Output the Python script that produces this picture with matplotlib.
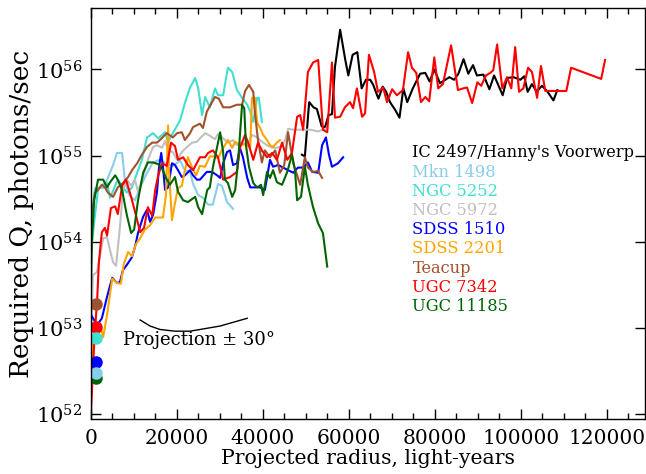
"""Required ionizing luminosity vs projected radius for the Voorwerpjes sample."""

import matplotlib

matplotlib.use("Agg")

import matplotlib.pyplot as plt
import matplotlib.ticker as mticker
import numpy as np


# projected radius in light-years, log10 of required Q (photons/sec)
IC2497_X = [49100, 49800, 50800, 51800, 52600, 53700, 54500, 55300, 56100, 56800,
            58000, 59200, 59900, 60900, 62000, 63000, 64000, 65000, 65700, 66900,
            67900, 68700, 69600, 70800, 71800, 72700, 73600, 74900, 76600, 77800,
            78800, 79900, 81200, 83400, 84500, 85500, 86700, 87800, 88900, 89800,
            91300, 92700, 93800, 95800, 96800, 98300, 99900, 100800, 101600, 102600,
            103700, 104900, 106100, 107600, 108500]
IC2497_LOGQ = [55.01, 54.99, 55.62, 55.56, 55.54, 55.34, 55.33, 55.47, 55.48, 56.03,
               56.46, 56.11, 55.93, 56.17, 56.20, 55.78, 55.88, 55.88, 55.82, 55.66,
               55.80, 55.74, 55.62, 55.53, 55.44, 55.78, 55.62, 55.78, 55.95, 55.96,
               55.86, 56.00, 55.84, 55.91, 55.88, 55.95, 56.12, 55.95, 56.05, 55.93,
               55.94, 55.77, 55.93, 55.70, 55.90, 55.91, 55.88, 55.92, 55.74, 55.83,
               55.74, 55.81, 55.75, 55.64, 55.76]

MKN1498_X = [0, 1000, 2200, 2900, 4000, 5200, 6100, 7300, 8000, 9100,
             10300, 11500, 13100, 14500, 16100, 17700, 19100, 20800, 21900, 23100,
             23800, 25000, 26100, 27300, 28400, 29600, 30500, 31700, 33100]
MKN1498_LOGQ = [54.25, 54.62, 54.63, 54.62, 54.74, 54.89, 55.03, 55.03, 54.69, 54.53,
                54.48, 54.63, 54.80, 54.92, 54.95, 54.90, 54.88, 54.94, 54.83, 54.81,
                54.67, 54.54, 54.51, 54.43, 54.43, 54.67, 54.65, 54.46, 54.38]

NGC5252_X = [0, 500, 1000, 1700, 2600, 3800, 4500, 5700, 6300, 7500,
             8400, 9600, 10800, 11900, 13100, 14500, 15700, 17300, 18000, 19100,
             20800, 21900, 23100, 24300, 25000, 25900, 26600, 27700, 28900, 29600,
             30800, 31900, 32900, 34000, 35200, 36400, 37100, 37800, 38700, 39100,
             39800]
NGC5252_LOGQ = [53.82, 54.08, 54.31, 54.60, 54.66, 54.68, 54.51, 54.65, 54.72, 54.63,
                54.57, 54.63, 54.80, 54.95, 55.21, 55.26, 55.20, 55.27, 55.16, 55.26,
                55.41, 55.61, 55.79, 55.90, 55.78, 55.47, 55.68, 55.56, 55.78, 55.70,
                55.70, 56.02, 55.97, 55.76, 55.67, 55.59, 55.51, 55.39, 55.67, 55.67,
                55.39]

NGC5972_X = [0, 500, 1500, 2200, 2900, 3800, 4500, 5200, 5900, 6800,
             7500, 8400, 9400, 10300, 11000, 12200, 13300, 14500, 15400, 16600,
             17300, 18000, 19100, 20100, 21200, 22400, 23600, 24700, 25400, 26600,
             27700, 28900, 29600, 30800, 31900, 33100, 34000, 35200, 36400, 37500,
             38700, 39800, 41000, 42200, 43300, 44500, 45200, 45900, 47100, 48700,
             51000, 52900, 55000]
NGC5972_LOGQ = [52.63, 53.61, 53.65, 53.85, 54.04, 54.05, 53.90, 53.76, 53.72, 54.17,
                54.60, 54.72, 54.65, 54.72, 54.58, 54.76, 54.95, 55.10, 55.12, 55.09,
                55.17, 55.06, 55.04, 54.95, 55.04, 55.10, 55.15, 55.16, 55.20, 55.26,
                55.23, 55.19, 55.25, 55.20, 55.15, 55.18, 55.12, 55.15, 55.12, 55.24,
                55.21, 55.16, 55.12, 55.09, 55.09, 55.11, 55.18, 55.31, 55.30, 55.30,
                55.30, 55.28, 55.32]

SDSS1510_X = [300, 1500, 2600, 3800, 5000, 6100, 6800, 7500, 8400, 9600,
              10300, 11000, 12200, 13100, 13800, 14500, 15400, 15900, 16400, 16800,
              17300, 18000, 18900, 19600, 20300, 21200, 21900, 23100, 23800, 24700,
              25400, 27000, 28200, 29400, 30100, 30800, 31700, 32400, 33100, 34000,
              34700, 35400, 36400, 37100, 39400, 40500, 41700, 42400, 43600, 45900,
              47100, 48200, 49400, 50500, 51500, 52900, 53800, 54700, 55400, 56100,
              57500, 58700]
SDSS1510_LOGQ = [53.13, 53.03, 53.11, 53.36, 53.58, 53.52, 53.53, 53.67, 53.73, 53.82,
                 53.94, 54.10, 54.29, 54.37, 54.23, 54.31, 54.57, 54.87, 55.03, 54.87,
                 54.60, 54.63, 54.91, 54.89, 54.83, 54.75, 54.77, 54.83, 54.77, 54.72,
                 54.72, 54.81, 54.81, 54.77, 54.74, 54.91, 55.04, 55.06, 54.89, 54.91,
                 55.09, 54.98, 54.74, 54.63, 54.63, 54.60, 54.95, 54.87, 54.89, 54.83,
                 54.80, 54.86, 54.86, 54.92, 54.81, 54.80, 55.12, 55.21, 55.01, 54.87,
                 54.91, 54.98]

SDSS2201_X = [300, 500, 1500, 2200, 2900, 3800, 5000, 6100, 7000, 7700,
              8700, 9600, 10500, 11500, 12600, 13800, 15000, 16100, 16800, 17500,
              18000, 18200, 18900, 19600, 20300, 21200, 21900, 22600, 23600, 24500,
              25400, 26600, 27700, 28700, 29600, 30500, 31900, 32900, 33600, 34700,
              35700, 37100, 37500, 38200, 38700, 39400, 40100, 41000, 41700, 42400,
              43300, 44000]
SDSS2201_LOGQ = [52.36, 52.82, 52.95, 53.03, 52.89, 53.15, 53.57, 53.52, 53.51, 53.74,
                 53.88, 53.83, 53.97, 54.04, 54.14, 54.19, 54.28, 54.28, 54.28, 54.54,
                 55.35, 54.83, 54.25, 54.45, 54.62, 54.65, 54.83, 54.98, 54.86, 54.77,
                 54.88, 54.87, 54.99, 54.99, 54.97, 55.06, 55.18, 55.09, 55.16, 55.12,
                 55.13, 55.10, 55.67, 55.67, 55.38, 55.32, 55.24, 55.18, 55.12, 55.10,
                 55.15, 55.18]

TEACUP_X = [0, 1000, 1700, 2600, 3300, 4000, 5200, 6300, 7500, 8700,
            9600, 10800, 11900, 13100, 14300, 15400, 16100, 17700, 19100, 20100,
            21200, 21900, 23100, 23800, 25400, 26100, 27000, 28000, 28900, 29800,
            30800, 32400, 34000, 35200, 35900, 36800, 37800, 38200, 38900, 39800,
            40500, 41700, 42900, 44000, 45000, 45900, 47100, 48700, 49800, 50500,
            51700, 52900, 53800]
TEACUP_LOGQ = [54.23, 54.57, 54.60, 54.66, 54.63, 54.57, 54.52, 54.63, 54.68, 54.75,
               54.83, 54.91, 55.01, 55.10, 55.15, 55.15, 55.18, 55.26, 55.21, 55.26,
               55.27, 55.18, 55.26, 55.33, 55.37, 55.32, 55.51, 55.60, 55.68, 55.66,
               55.56, 55.56, 55.59, 55.59, 55.75, 55.82, 55.74, 55.49, 55.18, 54.92,
               55.06, 54.98, 55.06, 54.80, 54.89, 55.27, 54.91, 54.66, 54.98, 54.86,
               54.81, 54.82, 54.74]

UGC7342_X = [0, 500, 1000, 1500, 1900, 2600, 3300, 3800, 4700, 5700,
             6300, 7300, 8200, 9400, 10500, 11500, 12400, 13300, 14300, 15000,
             15700, 16600, 17700, 18700, 19600, 20300, 21500, 22600, 23800, 25400,
             26600, 27300, 28400, 29600, 30800, 32400, 34000, 34700, 35900, 36600,
             37800, 38900, 39800, 41000, 42200, 43300, 44500, 45700, 46800, 48000,
             48700, 49400, 50500, 51700, 52900, 54000, 55000, 56100, 56800, 58000,
             59100, 60300, 61000, 61900, 63100, 63800, 64700, 65900, 66800, 68000,
             68900, 70100, 71200, 72600, 73800, 74700, 75700, 76800, 77800, 78700,
             79900, 80800, 81900, 83800, 85400, 86600, 87500, 88700, 89900, 90800,
             91900, 92900, 93600, 94500, 95700, 96800, 97800, 98700, 99600, 100600,
             101700, 102600, 103800, 104700, 105700, 108500, 110600, 111700, 118700, 119600]
UGC7342_LOGQ = [51.95, 52.51, 52.98, 53.32, 53.76, 54.11, 54.16, 54.07, 54.39, 54.41,
                54.32, 54.65, 54.72, 54.52, 54.31, 54.11, 54.16, 54.40, 54.30, 54.60,
                54.77, 54.91, 54.88, 55.15, 55.11, 54.95, 54.98, 54.89, 54.83, 54.98,
                54.98, 55.03, 55.06, 54.98, 54.72, 54.75, 54.81, 55.09, 55.24, 55.15,
                54.95, 55.15, 55.06, 54.98, 55.03, 54.95, 55.15, 54.95, 55.03, 55.45,
                55.47, 55.30, 55.97, 56.08, 56.11, 55.30, 55.27, 56.08, 55.44, 55.45,
                55.56, 55.62, 55.55, 55.78, 55.45, 55.49, 56.17, 55.97, 55.74, 55.79,
                55.62, 55.77, 55.70, 55.76, 56.20, 56.02, 55.96, 55.62, 55.68, 55.63,
                56.14, 55.78, 55.83, 56.28, 55.76, 55.78, 55.79, 55.61, 55.85, 55.81,
                55.93, 55.96, 55.99, 56.29, 55.78, 55.91, 55.78, 56.26, 55.74, 55.78,
                56.02, 55.97, 55.67, 56.04, 55.75, 55.75, 55.75, 56.02, 55.89, 56.11]

UGC11185_X = [0, 300, 800, 1700, 2900, 3800, 4500, 5700, 6300, 7300,
              8400, 9400, 10100, 11000, 12200, 13300, 14500, 15700, 16800, 17500,
              18400, 19600, 20300, 21500, 22600, 24300, 25000, 25900, 27100, 27700,
              28400, 29400, 30100, 30800, 31200, 31900, 32900, 33600, 34300, 35200,
              35700, 36100, 36800, 37800, 38700, 39600, 40100, 41000, 41700, 42400,
              43300, 44500, 45700, 46800, 47500, 48000, 48900, 49800, 50500, 51700,
              52900, 54000, 55000]
UGC11185_LOGQ = [53.32, 54.02, 54.48, 54.72, 54.72, 54.63, 54.69, 54.77, 54.72, 54.60,
                 54.31, 54.10, 54.14, 54.48, 54.80, 54.92, 54.92, 54.90, 54.83, 54.74,
                 54.66, 54.75, 54.58, 54.48, 54.46, 54.52, 54.40, 54.32, 54.60, 54.63,
                 54.86, 55.10, 55.27, 55.04, 54.72, 54.68, 54.52, 54.60, 54.95, 55.59,
                 55.55, 55.12, 54.87, 54.68, 54.63, 54.66, 54.54, 54.81, 54.74, 54.83,
                 54.69, 54.66, 54.81, 55.01, 54.83, 54.48, 54.52, 54.87, 54.66, 54.40,
                 54.21, 54.10, 53.71]

# nuclear points plotted at small radius
DOT_X = 1200
DOT_NAMES = ["UGC 7342", "UGC 11185", "SDSS 1510", "Teacup", "NGC 5252", "Mkn 1498"]
DOT_LOGQ = [53.01, 52.42, 52.60, 53.27, 52.88, 52.48]

# sketch of the +/- 30 degree projection effect
PROJ_X = [11500, 13800, 16100, 19600, 23100, 26600, 30100, 33600, 36400]
PROJ_LOGQ = [53.09, 53.02, 52.98, 52.96, 52.96, 52.99, 53.02, 53.07, 53.11]

NAMES = ["IC 2497/Hanny's Voorwerp", "Mkn 1498", "NGC 5252", "NGC 5972", "SDSS 1510",
         "SDSS 2201", "Teacup", "UGC 7342", "UGC 11185"]
COLORS = {
    "IC 2497/Hanny's Voorwerp": "black",
    "Mkn 1498": "#87ceeb",
    "NGC 5252": "#40e0d0",
    "NGC 5972": "#c0c0c0",
    "SDSS 1510": "#0000ff",
    "SDSS 2201": "#ffa500",
    "Teacup": "#a0522d",
    "UGC 7342": "#ff0000",
    "UGC 11185": "#006400",
}
SERIES = {
    "IC 2497/Hanny's Voorwerp": (IC2497_X, IC2497_LOGQ),
    "Mkn 1498": (MKN1498_X, MKN1498_LOGQ),
    "NGC 5252": (NGC5252_X, NGC5252_LOGQ),
    "NGC 5972": (NGC5972_X, NGC5972_LOGQ),
    "SDSS 1510": (SDSS1510_X, SDSS1510_LOGQ),
    "SDSS 2201": (SDSS2201_X, SDSS2201_LOGQ),
    "Teacup": (TEACUP_X, TEACUP_LOGQ),
    "UGC 7342": (UGC7342_X, UGC7342_LOGQ),
    "UGC 11185": (UGC11185_X, UGC11185_LOGQ),
}


def main() -> None:
    plt.rcParams["font.family"] = ["DejaVu Serif"]
    plt.rcParams["mathtext.fontset"] = "dejavuserif"

    fig = plt.figure(figsize=(6.46, 4.74), dpi=100)
    ax = fig.add_axes([0.1404, 0.116, 0.8588, 0.8665])

    for name in NAMES:
        xs, logq = SERIES[name]
        ax.plot(xs, 10 ** np.array(logq), color=COLORS[name], lw=1.5)

    for name, logq in zip(DOT_NAMES, DOT_LOGQ):
        ax.plot([DOT_X], [10 ** logq], "o", color=COLORS[name], ms=9, mec="none")

    ax.plot(PROJ_X, 10 ** np.array(PROJ_LOGQ), color="black", lw=1.0)
    ax.text(7500, 10 ** 52.86, "Projection \u00b1 30\u00b0", fontsize=13, va="center")

    for i, name in enumerate(NAMES):
        ax.text(0.580, 0.648 - i * 0.0468, name, transform=ax.transAxes,
                color=COLORS[name], fontsize=11.7, va="center")

    ax.set_yscale("log")
    ax.set_xlim(0, 129000)
    ax.set_ylim(10 ** 51.94, 10 ** 56.71)
    ax.xaxis.set_major_locator(mticker.MultipleLocator(20000))
    ax.xaxis.set_minor_locator(mticker.MultipleLocator(5000))
    ax.yaxis.set_major_locator(mticker.LogLocator(base=10, numticks=10))
    ax.yaxis.set_minor_locator(mticker.NullLocator())
    ax.yaxis.set_major_formatter(
        mticker.FuncFormatter(lambda v, _: r"$10^{%d}$" % round(np.log10(v))))

    ax.tick_params(which="both", direction="in", top=True, right=True)
    ax.tick_params(which="major", length=7, width=1.0)
    ax.tick_params(which="minor", length=4, width=1.0)
    ax.tick_params(axis="x", pad=7, labelsize=14.5)
    ax.tick_params(axis="y", pad=6, labelsize=15)
    for spine in ax.spines.values():
        spine.set_linewidth(1.0)

    ax.set_xlabel("Projected radius, light-years", fontsize=14.7, labelpad=1)
    ax.set_ylabel("Required Q, photons/sec", fontsize=19, labelpad=1)

    fig.savefig("out.png", dpi=100)
    plt.close(fig)


if __name__ == "__main__":
    main()
